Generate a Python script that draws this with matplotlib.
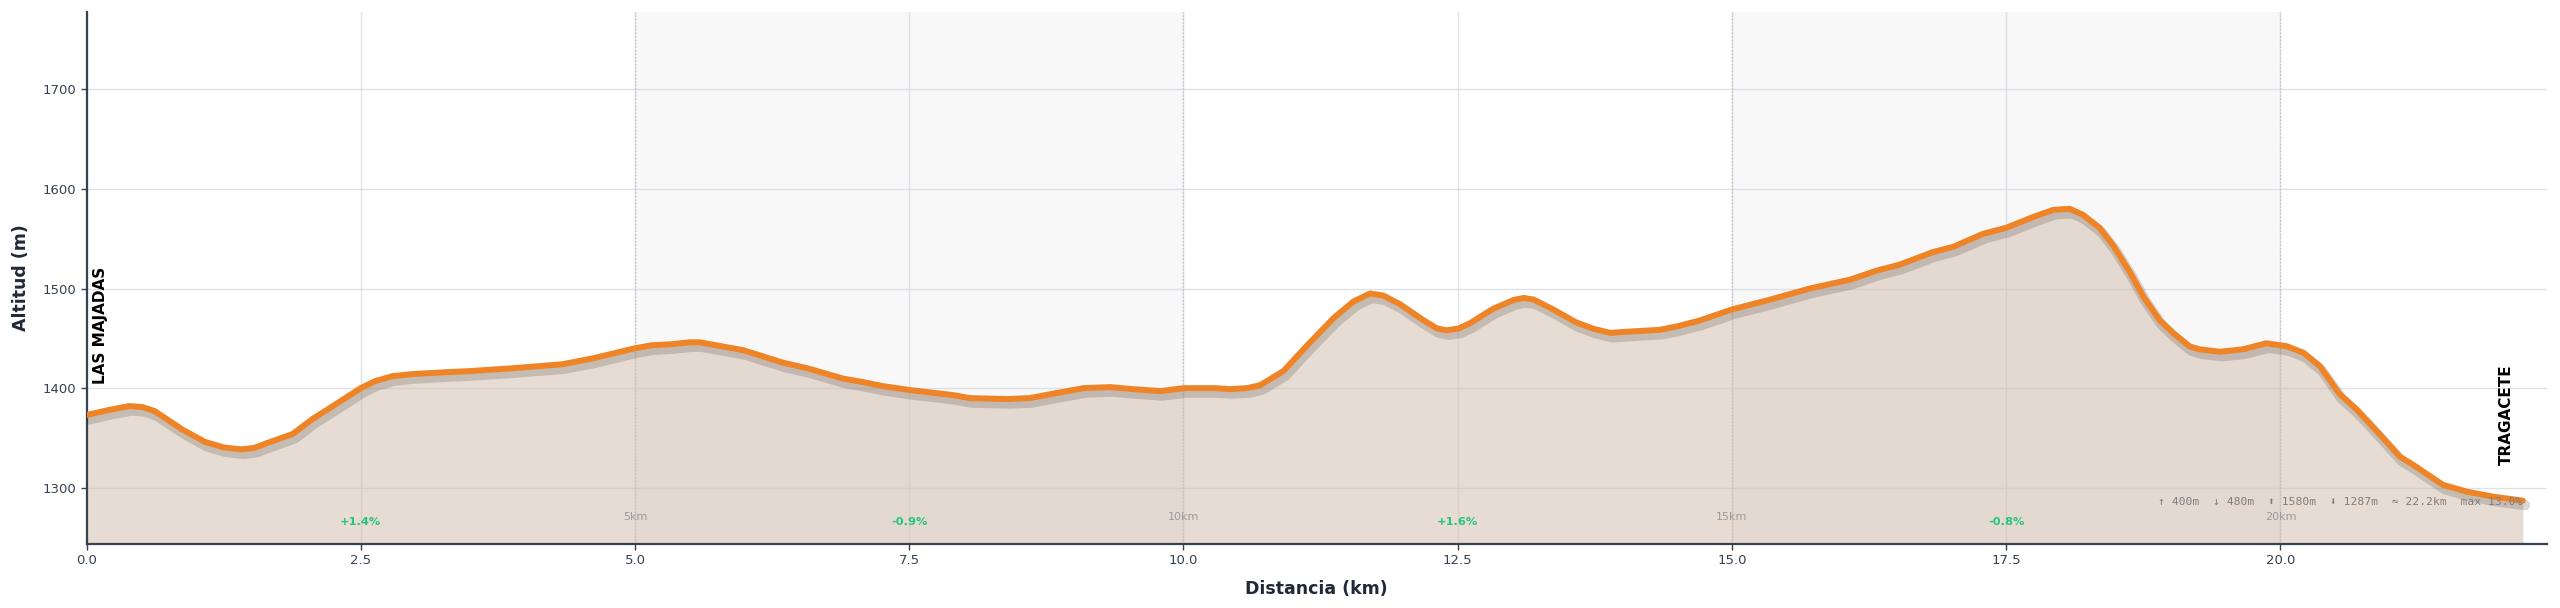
import matplotlib
matplotlib.use("Agg")
import matplotlib.pyplot as plt
import matplotlib.patheffects as pe
import numpy as np

# ---- data ----
dist_km = [0.00, 0.20, 0.39, 0.51, 0.62, 0.88, 1.08, 1.25, 1.41, 1.53, 1.65, 1.88,
           2.06, 2.26, 2.50, 2.63, 2.79, 2.96, 3.28, 3.48, 3.89, 4.34, 4.62, 5.00,
           5.15, 5.32, 5.50, 5.59, 5.99, 6.35, 6.57, 6.90, 7.08, 7.26, 7.51, 7.90,
           8.05, 8.39, 8.60, 8.84, 9.09, 9.33, 9.54, 9.79, 10.00, 10.29, 10.42,
           10.58, 10.70, 10.91, 11.12, 11.37, 11.55, 11.70, 11.82, 11.97, 12.19,
           12.31, 12.40, 12.51, 12.61, 12.82, 13.01, 13.10, 13.19, 13.37, 13.58,
           13.74, 13.89, 14.10, 14.34, 14.50, 14.71, 15.00, 15.32, 15.71, 16.08,
           16.32, 16.53, 16.83, 17.02, 17.29, 17.50, 17.75, 17.93, 18.08, 18.20,
           18.35, 18.48, 18.63, 18.75, 18.90, 19.02, 19.17, 19.26, 19.45, 19.66,
           19.87, 20.06, 20.21, 20.36, 20.54, 20.69, 20.91, 21.09, 21.21, 21.48,
           21.70, 21.94, 22.21]
elev_m = [1373, 1378, 1382, 1381, 1377, 1358, 1346, 1340.5, 1338.5, 1340, 1345, 1354,
          1369, 1383, 1400, 1407, 1412, 1414, 1416, 1417, 1420, 1424, 1430, 1440,
          1443, 1444, 1446, 1446, 1438, 1425.5, 1420, 1409.5, 1406, 1402, 1398, 1393,
          1390, 1389, 1390, 1395, 1400, 1401, 1399, 1397, 1400, 1400, 1399,
          1400, 1403, 1417, 1442, 1470.5, 1487, 1495, 1493, 1484.5, 1468,
          1460, 1458, 1460, 1465, 1479.5, 1488.5, 1490.5, 1489, 1479, 1466,
          1459.5, 1455.5, 1457, 1458.5, 1462, 1468, 1479, 1488, 1500, 1509,
          1518, 1524, 1536.5, 1542, 1555, 1561, 1572, 1579, 1580, 1574,
          1561, 1542.5, 1516, 1492, 1468, 1455.5, 1442, 1439, 1436.5, 1439,
          1445, 1442, 1435.5, 1422, 1394, 1379, 1353, 1331, 1323, 1303,
          1296, 1291, 1287]

segment_centers = [2.5, 7.5, 12.5, 17.5]
segment_grades = ["+1.4%", "-0.9%", "+1.6%", "-0.8%"]
km_marks = [5, 10, 15, 20]
band_starts = [5, 15]
start_name = "LAS MAJADAS"
end_name = "TRAGACETE"
stats_text = "\u2191 400m  \u2193 480m  \u2b06 1580m  \u2b07 1287m  \u2248 22.2km  max 13.0%"
y_limits = (1243.5, 1778)
x_limits = (0, 22.43)

# ---- figure ----
fig = plt.figure(figsize=(25.6, 6.08), dpi=100)
ax = fig.add_axes([86.5 / 2560, 1 - 544 / 608, (2547 - 86.5) / 2560, (544 - 11.6) / 608])

dark = "#374151"

# alternating 5 km bands
for b in band_starts:
    ax.axvspan(b, b + 5, color="#f8f8f8", lw=0, zorder=0)

ax.set_axisbelow(True)
ax.grid(True, color="#d8dbe3", lw=1.0, alpha=0.8, zorder=0)

for k in km_marks:
    ax.axvline(k, color="#b5b9c2", lw=1.0, ls=(0, (1, 1.5)), alpha=0.8, zorder=1)

ax.fill_between(dist_km, elev_m, y_limits[0], color="#d1bba9", alpha=0.5, lw=0, zorder=2)

ax.plot(dist_km, elev_m, color="#ef8427", lw=4.3, solid_capstyle="round",
        solid_joinstyle="round", zorder=4,
        path_effects=[pe.SimpleLineShadow(offset=(1.5, -3.2), shadow_color="black",
                                          alpha=0.15, linewidth=7.5),
                      pe.Normal()])

ax.set_xlim(*x_limits)
ax.set_ylim(*y_limits)
ax.set_yticks([1300, 1400, 1500, 1600, 1700])

for s in ["top", "right"]:
    ax.spines[s].set_visible(False)
for s in ["left", "bottom"]:
    ax.spines[s].set_color(dark)
    ax.spines[s].set_linewidth(1.6)

ax.tick_params(axis="both", colors=dark, labelsize=9.5, length=4, width=1.0)
ax.tick_params(axis="both", labelcolor=dark)

ax.set_xlabel("Distancia (km)", fontsize=12.5, fontweight="bold", color="#1f2937", labelpad=9)
ax.set_ylabel("Altitud (m)", fontsize=12.5, fontweight="bold", color="#1f2937", labelpad=9)

# segment grade labels
for xc, g in zip(segment_centers, segment_grades):
    ax.text(xc, 0.041, g, transform=ax.get_xaxis_transform(), ha="center", va="center",
            fontsize=8.2, fontweight="bold", color="#27c47f", zorder=6)

# km markers
for k in km_marks:
    ax.text(k, 0.05, f"{k}km", transform=ax.get_xaxis_transform(), ha="center", va="center",
            fontsize=8, color="#9a9a9a", zorder=6)

# stats
ax.text(0.99, 0.079, stats_text, transform=ax.transAxes, ha="right", va="center",
        fontsize=8.2, color="#7d7d7d", family=["DejaVu Sans Mono", "DejaVu Sans"], zorder=6)

# endpoint names
ax.annotate(start_name, xy=(dist_km[0], elev_m[0]), xytext=(10, 22), textcoords="offset points",
            rotation=90, ha="center", va="bottom", fontsize=11, fontweight="bold", color="black",
            zorder=7)
ax.annotate(end_name, xy=(dist_km[-1], elev_m[-1]), xytext=(-12, 26), textcoords="offset points",
            rotation=90, ha="center", va="bottom", fontsize=11, fontweight="bold", color="black",
            zorder=7)

fig.savefig("out.png", dpi=100, facecolor="white")
